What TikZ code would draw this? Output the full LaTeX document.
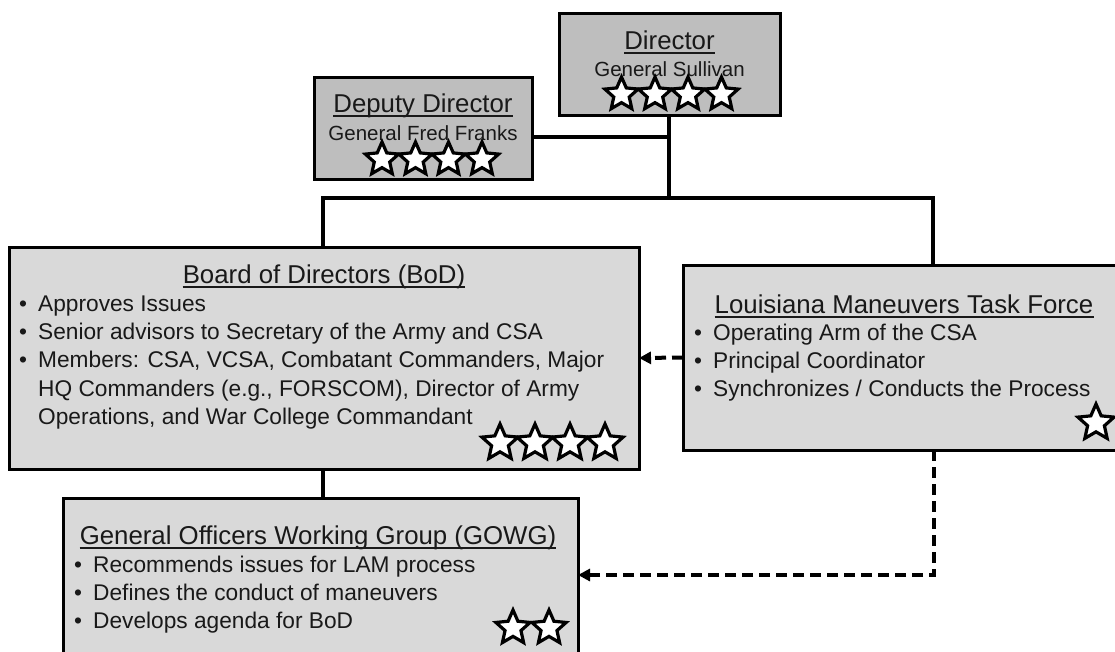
\documentclass[tikz,border=0pt]{standalone}
\usepackage{fontspec}
\setmainfont{Liberation Sans}
\usetikzlibrary{shapes.geometric,arrows.meta}
\definecolor{darkbox}{RGB}{190,190,190}
\definecolor{lightbox}{RGB}{217,217,217}
\definecolor{ink}{RGB}{25,25,25}
\newcommand\titlefont{\fontsize{25.8}{30}\selectfont}
\newcommand\subfont{\fontsize{20.5}{24}\selectfont}
\newcommand\bulfont{\fontsize{22.7}{27}\selectfont}
\begin{document}
\begin{tikzpicture}[x=1pt,y=-1pt,
 box/.style={draw=black, line width=3pt, rectangle, inner sep=0pt, outer sep=0pt},
 darkfill/.style={fill=darkbox}, lightfill/.style={fill=lightbox},
 ttl/.style={font=\titlefont, text=ink, inner sep=0pt, anchor=base},
 subt/.style={font=\subfont, text=ink, inner sep=0pt, anchor=base},
 btxt/.style={font=\bulfont, text=ink, inner sep=0pt, anchor=base west},
 bdot/.style={font=\bulfont, text=ink, inner sep=0pt, anchor=base},
 ul/.style={line width=2.5pt, ink},
 conn/.style={line width=4pt, black},
 dconn/.style={line width=4pt, black, dash pattern=on 11pt off 6pt, -{Triangle[length=12pt,width=12pt]}},
 rank/.style={star, star points=5, star point ratio=2.15, draw=black, fill=white, line width=3.2pt, line join=miter, inner sep=0pt, minimum size=#1},
]
\useasboundingbox[fill=white] (0,0) rectangle (1115,651);

% boxes
\node[box,darkfill,minimum width=221pt,minimum height=102pt] (dir) at (669.5,64) {};
\node[box,darkfill,minimum width=218pt,minimum height=102pt] (dep) at (423,128) {};
\node[box,lightfill,minimum width=630pt,minimum height=222pt] (bod) at (324,358) {};
\node[box,lightfill,minimum width=442pt,minimum height=185pt] (lmtf) at (904,357.5) {};
\node[box,lightfill,minimum width=515pt,minimum height=167pt] (gowg) at (320.5,581.5) {};

% connectors
\coordinate (jd) at (669,137);
\coordinate (jm) at (669,198);
\coordinate (jl) at (323,198);
\coordinate (jr) at (933,198);
\coordinate (dc) at (934,575);
\draw[conn] (dir.south -| jm) -- (jm);
\draw[conn] (jd -| dep.east) -- (jd);
\draw[conn,line cap=rect] (jl) -- (jr);
\draw[conn] (jl) -- (jl |- bod.north);
\draw[conn] (jr) -- (jr |- lmtf.north);
\draw[conn] (bod.south -| jl) -- (jl |- gowg.north);
\draw[dconn] (lmtf.west) -- (bod.east);
\draw[dconn,line join=miter] (dc |- lmtf.south) -- (dc) -- (dc -| gowg.east);

% Director
\node[ttl] (tdir) at (669.5,49) {Director};
\draw[ul] ([yshift=-4pt]tdir.base west) -- ([yshift=-4pt]tdir.base east);
\node[subt] (sdir) at (669.5,76) {General Sullivan};
\node[rank=35pt] (sd1) at (621.5,94.5) {};
\node[rank=35pt] (sd2) at (655,94.5) {};
\node[rank=35pt] (sd3) at (688,94.5) {};
\node[rank=35pt] (sd4) at (721.5,94.5) {};

% Deputy
\node[ttl] (tdep) at (423,112) {Deputy Director};
\draw[ul] ([yshift=-4pt]tdep.base west) -- ([yshift=-4pt]tdep.base east);
\node[subt] (sdep) at (423,140) {General Fred Franks};
\node[rank=35pt] (se1) at (382,159.5) {};
\node[rank=35pt] (se2) at (415.5,159.5) {};
\node[rank=35pt] (se3) at (448.5,159.5) {};
\node[rank=35pt] (se4) at (482,159.5) {};

% BoD
\node[ttl] (tbod) at (324,283) {Board of Directors (BoD)};
\draw[ul] ([yshift=-4pt]tbod.base west) -- ([yshift=-4pt]tbod.base east);
\node[bdot] (bd1) at (23,311) {•};
\node[btxt] (bt1) at (38,311) {Approves Issues};
\node[bdot] (bd2) at (23,339.3) {•};
\node[btxt] (bt2) at (38,339.3) {Senior advisors to Secretary of the Army and CSA};
\node[bdot] (bd3) at (23,367.6) {•};
\node[btxt] (bt3) at (38,367.6) {Members: CSA, VCSA, Combatant Commanders, Major};
\node[btxt] (bt4) at (38,396) {HQ Commanders (e.g., FORSCOM), Director of Army};
\node[btxt] (bt5) at (38,424) {Operations, and War College Commandant};
\node[rank=38pt] (sb1) at (500,443) {};
\node[rank=38pt] (sb2) at (535,443) {};
\node[rank=38pt] (sb3) at (570,443) {};
\node[rank=38pt] (sb4) at (605,443) {};

% LMTF
\node[ttl] (tlm) at (904,313) {Louisiana Maneuvers Task Force};
\draw[ul] ([yshift=-4pt]tlm.base west) -- ([yshift=-4pt]tlm.base east);
\node[bdot] (ld1) at (698,340) {•};
\node[btxt] (lt1) at (713,340) {Operating Arm of the CSA};
\node[bdot] (ld2) at (698,368.3) {•};
\node[btxt] (lt2) at (713,368.3) {Principal Coordinator};
\node[bdot] (ld3) at (698,396.6) {•};
\node[btxt] (lt3) at (713,396.6) {Synchronizes / Conducts the Process};
\node[rank=38pt] (sl1) at (1096,423) {};

% GOWG
\node[ttl] (tgw) at (318,544) {General Officers Working Group (GOWG)};
\draw[ul] ([yshift=-4pt]tgw.base west) -- ([yshift=-4pt]tgw.base east);
\node[bdot] (gd1) at (78,572) {•};
\node[btxt] (gt1) at (93,572) {Recommends issues for LAM process};
\node[bdot] (gd2) at (78,600) {•};
\node[btxt] (gt2) at (93,600) {Defines the conduct of maneuvers};
\node[bdot] (gd3) at (78,628) {•};
\node[btxt] (gt3) at (93,628) {Develops agenda for BoD};
\node[rank=36pt] (sg1) at (513,628) {};
\node[rank=36pt] (sg2) at (549,628) {};
\end{tikzpicture}
\end{document}
